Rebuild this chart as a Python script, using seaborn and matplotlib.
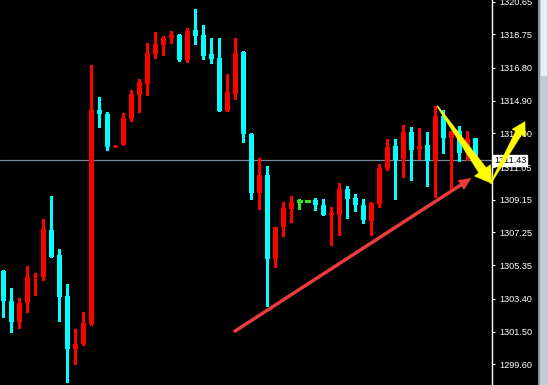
import numpy as np
import pandas as pd
import matplotlib
matplotlib.use("Agg")
import matplotlib.pyplot as plt
import seaborn as sns
from matplotlib.patches import Polygon, Rectangle
from matplotlib.transforms import IdentityTransform

# ---- data ----
opens = [1305.01, 1303.29, 1302.07, 1303.16, 1304.66, 1304.64, 1307.39, 1305.94, 1303.56, 1300.50,
         1300.76, 1301.95, 1314.36, 1314.14, 1312.23, 1312.34, 1313.85, 1315.23, 1315.88, 1317.62,
         1318.15, 1318.55, 1318.71, 1317.28, 1319.00, 1318.71, 1317.61, 1317.37, 1314.32, 1315.30,
         1317.72, 1312.96, 1309.56, 1310.58, 1305.73, 1307.57, 1308.61, 1309.06, 1309.06, 1309.13,
         1308.84, 1308.26, 1308.26, 1309.77, 1309.25, 1308.84, 1307.91, 1308.90, 1310.93, 1312.27,
         1311.51, 1313.08, 1312.09, 1312.33, 1311.41, 1314.01, 1312.75, 1313.14, 1311.88, 1312.71]
highs = [1305.07, 1304.01, 1303.43, 1305.30, 1304.88, 1308.03, 1309.37, 1306.29, 1304.26, 1301.65,
         1302.63, 1316.97, 1315.11, 1314.24, 1312.33, 1314.18, 1315.52, 1316.16, 1318.25, 1318.88,
         1318.65, 1318.94, 1318.77, 1319.12, 1320.22, 1319.29, 1318.53, 1318.53, 1316.45, 1318.53,
         1317.78, 1313.02, 1311.57, 1311.11, 1307.57, 1309.02, 1309.37, 1309.19, 1309.06, 1309.25,
         1309.19, 1308.73, 1310.12, 1309.95, 1309.48, 1309.19, 1309.02, 1311.22, 1312.67, 1312.67,
         1313.49, 1313.37, 1313.31, 1313.08, 1314.59, 1314.36, 1313.14, 1313.43, 1313.14, 1312.73]
lows = [1302.36, 1301.49, 1301.72, 1302.65, 1303.64, 1304.51, 1305.80, 1302.11, 1298.59, 1299.63,
        1300.74, 1301.88, 1313.39, 1312.05, 1312.23, 1312.34, 1313.74, 1314.24, 1315.23, 1317.39,
        1317.57, 1318.26, 1317.22, 1317.16, 1318.20, 1317.33, 1317.10, 1314.30, 1314.32, 1315.01,
        1312.52, 1309.21, 1308.63, 1303.00, 1305.26, 1307.06, 1307.87, 1308.61, 1309.06, 1308.55,
        1308.26, 1306.52, 1307.10, 1308.09, 1308.50, 1307.80, 1307.10, 1308.73, 1310.87, 1309.19,
        1310.47, 1310.29, 1311.51, 1309.96, 1309.32, 1311.88, 1309.77, 1311.41, 1311.45, 1311.43]
closes = [1303.29, 1302.07, 1303.16, 1304.66, 1304.72, 1307.45, 1305.84, 1303.52, 1300.50, 1300.78,
          1301.99, 1314.36, 1314.14, 1312.23, 1312.28, 1313.89, 1315.29, 1315.98, 1317.66, 1318.19,
          1318.54, 1318.71, 1317.28, 1318.94, 1318.67, 1317.51, 1317.33, 1314.32, 1315.40, 1317.66,
          1312.98, 1309.56, 1310.58, 1305.73, 1307.57, 1308.67, 1309.02, 1309.06, 1309.06, 1308.84,
          1308.26, 1308.38, 1309.77, 1309.19, 1308.84, 1307.97, 1308.96, 1310.99, 1312.21, 1311.45,
          1313.08, 1312.03, 1312.27, 1311.41, 1314.01, 1312.75, 1313.14, 1311.88, 1312.71, 1311.43]
ytick_labels = ["1320.65", "1318.75", "1316.80", "1314.90", "1313.00", "1311.05",
                "1309.15", "1307.25", "1305.35", "1303.40", "1301.50", "1299.60"]
last_price = 1311.43
last_label = "1311.43"

# annotation arrows (candle index, price)
red_arrow = [(28.84, 1301.49), (58.46, 1310.39)]
yellow_arrow1 = [(54.25, 1314.59), (61.05, 1310.10)]
yellow_arrow2 = [(60.90, 1310.09), (65.21, 1313.69)]

# ---- style ----
sns.set_style("dark", rc={"axes.facecolor": "black", "figure.facecolor": "black",
                          "axes.edgecolor": "white", "ytick.color": "white",
                          "axes.grid": False})
plt.rcParams["font.family"] = ["Liberation Sans", "DejaVu Sans"]

UP, DOWN, FLAT = "#ff0000", "#00ffff", "#2ee62e"

df = pd.DataFrame({"o": opens, "h": highs, "l": lows, "c": closes})
df["x"] = np.arange(len(df))
df["col"] = np.where(df.c > df.o, UP, np.where(df.c < df.o, DOWN, FLAT))
df["bottom"] = df[["o", "c"]].min(axis=1)
df["height"] = (df.c - df.o).abs()

W, H = 548, 385
fig = plt.figure(figsize=(W / 100, H / 100), dpi=100)
ax = fig.add_axes([0, 0, 492 / W, 1])

x_lo = -3.3 / 8
ax.set_xlim(x_lo, x_lo + 492 / 8)
ax.set_ylim(1298.40, 1320.741)

# wicks
ax.vlines(df.x, df.l, df.h, colors=df.col, linewidth=0.75, antialiased=False, zorder=2)
# bodies
body = df[df.height > 0]
ax.bar(body.x, body.height, bottom=body.bottom, width=0.68, color=body.col,
       linewidth=0, antialiased=False, zorder=3)
flat = df[df.height == 0]
ax.hlines(flat.c, flat.x - 0.34, flat.x + 0.34, colors=flat.col, linewidth=1.0,
          antialiased=False, zorder=3)

# bid line
ax.axhline(last_price, color="#778899", linewidth=0.9, zorder=1)

# axis
for s in ["left", "top", "bottom"]:
    ax.spines[s].set_visible(False)
ax.spines["right"].set_color("white")
ax.spines["right"].set_linewidth(1.0)
ax.yaxis.tick_right()
ax.set_yticks([float(t) for t in ytick_labels])
ax.set_yticklabels(ytick_labels)
ax.tick_params(axis="y", direction="out", length=2.5, width=0.8, color="white",
               labelcolor="white", labelsize=6.6, pad=2.5)
ax.set_xticks([])

ax.text(494 / 492, last_price, last_label, transform=ax.get_yaxis_transform(),
        ha="left", va="center", fontsize=6.6, color="black", zorder=6,
        bbox=dict(boxstyle="square,pad=0.12", facecolor="white", edgecolor="white"))


def tapered_arrow(p0, p1, w0, w1, head_len, head_w, color, z):
    a = ax.transData.transform(p0)
    b = ax.transData.transform(p1)
    d = b - a
    d = d / np.hypot(*d)
    n = np.array([-d[1], d[0]])
    base = b - head_len * d
    pts = [a + n * w0 / 2, base + n * w1 / 2, base + n * head_w / 2, b,
           base - n * head_w / 2, base - n * w1 / 2, a - n * w0 / 2]
    poly = Polygon(pts, closed=True, facecolor=color, edgecolor=color, linewidth=0.3,
                   transform=IdentityTransform(), clip_on=False, zorder=z)
    fig.add_artist(poly)


tapered_arrow(*red_arrow, 3.0, 3.0, 12, 11, "#ef3b3b", 7)
tapered_arrow(*yellow_arrow1, 1.0, 9.0, 16, 20, "#ffff00", 8)
tapered_arrow(*yellow_arrow2, 1.0, 7.0, 13, 15, "#ffff00", 8)

# scrollbar strip at right edge
fig.add_artist(Rectangle((538 / W, 0), 10 / W, 1, transform=fig.transFigure,
                         facecolor="#c3cad6", edgecolor="none"))
fig.add_artist(Rectangle((538 / W, 0), 2 / W, 1, transform=fig.transFigure,
                         facecolor="#8d939c", edgecolor="none"))
fig.add_artist(Rectangle((541 / W, 1 - 76 / H), 6 / W, 76 / H, transform=fig.transFigure,
                         facecolor="#eceef2", edgecolor="none"))

fig.savefig("out.png", dpi=100, facecolor="black")
